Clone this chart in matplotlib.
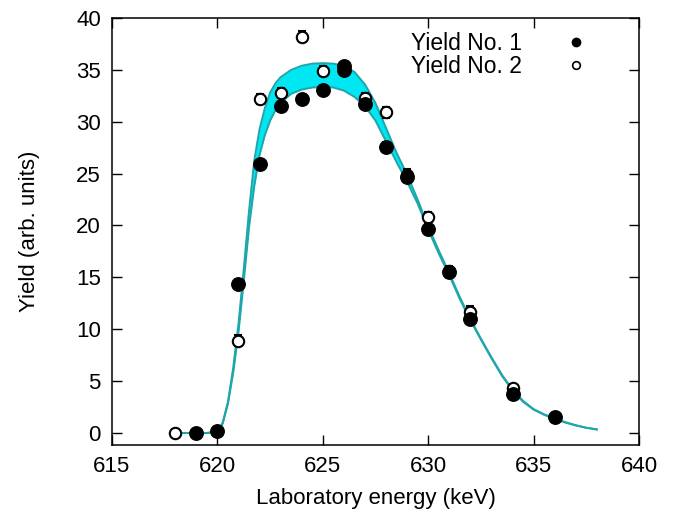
import numpy as np
import matplotlib
matplotlib.use("Agg")
import matplotlib.pyplot as plt
from matplotlib.lines import Line2D

plt.rcParams['font.family'] = ['Liberation Sans', 'DejaVu Sans']

# Data: Yield No. 1 (filled)
energy1 = [619, 620, 621, 622, 623, 624, 625, 626, 626, 627, 628, 629, 630, 631, 632, 634, 636]
yield1 = [0.0, 0.2, 14.4, 25.9, 31.5, 32.2, 33.1, 35.4, 35.0, 31.7, 27.6, 24.7, 19.7, 15.5, 11.0, 3.8, 1.5]
err1 = [0.2, 0.3, 0.4, 0.4, 0.4, 0.4, 0.4, 0.4, 0.4, 0.4, 0.4, 0.4, 0.4, 0.4, 0.4, 0.3, 0.2]

# Data: Yield No. 2 (open)
energy2 = [618, 621, 622, 623, 624, 625, 626, 627, 628, 629, 630, 631, 632, 634]
yield2 = [0.0, 8.9, 32.2, 32.8, 38.2, 34.9, 35.0, 32.3, 30.9, 24.9, 20.8, 15.6, 11.7, 4.3]
err2 = [0.0, 0.5, 0.5, 0.5, 0.5, 0.5, 0.5, 0.5, 0.5, 0.5, 0.5, 0.5, 0.5, 0.4]

# Fit band
band_energy = [618, 619, 619.5, 620, 620.25, 620.5, 620.75, 621, 621.25, 621.5, 621.75,
               622, 622.25, 622.5, 622.75, 623, 623.5, 624, 624.5, 625, 625.5, 626,
               626.5, 627, 627.5, 628, 628.5, 629, 629.5, 630, 630.5, 631, 631.5, 632,
               632.5, 633, 633.5, 634, 634.5, 635, 635.5, 636, 636.5, 637, 637.5, 638]
band_upper = [0.0, 0.0, 0.0, 0.1, 1.0, 3.0, 6.3, 10.5, 15.8, 21.4, 26.3,
              29.3, 31.3, 32.8, 33.7, 34.3, 35.0, 35.4, 35.6, 35.65, 35.6, 35.4,
              34.8, 33.6, 31.8, 29.4, 27.0, 24.9, 22.5, 19.9, 17.6, 15.4, 13.1, 11.0,
              9.1, 7.3, 5.6, 4.2, 3.1, 2.3, 1.8, 1.4, 1.05, 0.75, 0.5, 0.35]
band_lower = [0.0, 0.0, 0.0, 0.1, 0.9, 2.8, 5.8, 9.7, 14.6, 19.8, 23.8,
              26.8, 28.7, 30.1, 31.1, 31.8, 32.7, 33.1, 33.3, 33.35, 33.3, 33.0,
              32.4, 31.5, 30.1, 28.1, 26.1, 24.2, 22.1, 19.6, 17.3, 15.2, 12.9, 10.85,
              9.0, 7.2, 5.5, 4.1, 3.0, 2.25, 1.75, 1.35, 1.0, 0.72, 0.5, 0.33]

fig = plt.figure(figsize=(6.87, 5.20), dpi=100)
ax = fig.add_axes([112/687, 1-445/520, (639-112)/687, (445-18)/520])

ax.fill_between(band_energy, band_lower, band_upper, color='#00e6f2', lw=0, zorder=1)
ax.plot(band_energy, band_upper, color='#1ea6aa', lw=1.4, zorder=2)
ax.plot(band_energy, band_lower, color='#1ea6aa', lw=1.4, zorder=2)

ax.errorbar(energy2, yield2, yerr=err2, fmt='o', ms=8.2, mfc='white', mec='black',
            mew=1.5, ecolor='black', elinewidth=1.2, capsize=3, capthick=1.2, zorder=3)
ax.errorbar(energy1, yield1, yerr=err1, fmt='o', ms=9.7, mfc='black', mec='black',
            ecolor='black', elinewidth=1.2, capsize=3, capthick=1.2, zorder=4)

ax.set_xlim(615, 640)
ax.set_ylim(-1.16, 40)
ax.set_xticks([615, 620, 625, 630, 635, 640])
ax.set_yticks([0, 5, 10, 15, 20, 25, 30, 35, 40])
ax.tick_params(direction='in', top=True, right=True, length=7, width=1.0,
               labelsize=16, pad=8, colors='black')
for s in ax.spines.values():
    s.set_linewidth(1.1)

ax.set_xlabel('Laboratory energy (keV)', fontsize=16, labelpad=8)
ax.set_ylabel('Yield (arb. units)', fontsize=16, labelpad=26)

handles = [Line2D([], [], ls='none', marker='o', ms=6, mfc='black', mec='black'),
           Line2D([], [], ls='none', marker='o', ms=5.5, mfc='white', mec='black', mew=1.2)]
ax.legend(handles, ['Yield No. 1', 'Yield No. 2'], loc='upper right',
          bbox_to_anchor=(0.943, 1.005), frameon=False, markerfirst=False,
          fontsize=16.5, handlelength=1.5, handletextpad=1.6, labelspacing=0.0,
          borderpad=0.2)

fig.savefig('out.png', dpi=100)
